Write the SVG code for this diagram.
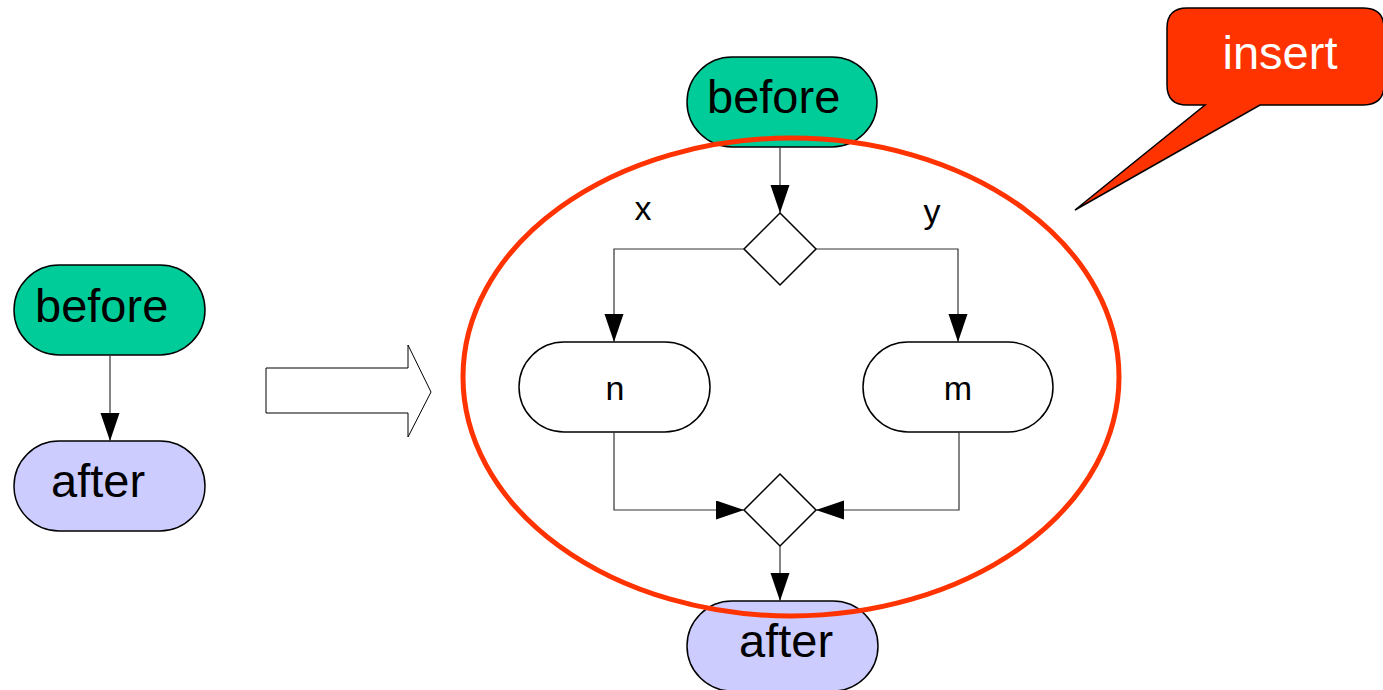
<svg xmlns="http://www.w3.org/2000/svg" width="1383" height="690" viewBox="0 0 1383 690">
  <defs>
    <marker id="head" markerUnits="userSpaceOnUse" markerWidth="30" markerHeight="20" refX="28" refY="9.5" orient="auto">
      <path d="M0,0 L28,9.5 L0,19 Z" fill="#000"/>
    </marker>
  </defs>
  <style>
    .term { stroke: #000; stroke-width: 1.5; }
    .before { fill: #00CC99; }
    .after { fill: #CCCCFF; }
    .act { fill: #fff; stroke: #000; stroke-width: 1.5; }
    .big { font-family: "Liberation Sans", Arial, sans-serif; font-size: 47px; fill: #000; }
    .small { font-family: "Liberation Sans", Arial, sans-serif; font-size: 34px; fill: #000; text-anchor: middle; }
    .edge { fill: none; stroke: #333; stroke-width: 1.2; marker-end: url(#head); }
  </style>

  <!-- original sequence: before -> after -->
  <g id="left-before">
    <rect class="term before" x="14" y="265" width="191" height="90" rx="45" ry="45"/>
    <text class="big" x="35" y="322">before</text>
  </g>
  <g id="left-after">
    <rect class="term after" x="14" y="441" width="191" height="90" rx="45" ry="45"/>
    <text class="big" x="51" y="497">after</text>
  </g>

  <!-- transformation arrow -->
  <g id="transform-arrow">
    <polygon points="266,368 408,368 408,345 431,392 408,437 408,413 266,413" fill="#fff" stroke="#000" stroke-width="1"/>
  </g>

  <!-- expanded sequence with a decision and merge -->
  <g id="right-before">
    <rect class="term before" x="687" y="57" width="190" height="90" rx="45" ry="45"/>
    <text class="big" x="707" y="113">before</text>
  </g>
  <g id="decision">
    <polygon class="act" points="780,213 816,249 780,285 744,249"/>
  </g>
  <g id="node-n">
    <rect class="act" x="519" y="342" width="191" height="90" rx="45" ry="45"/>
    <text class="small" x="615" y="400">n</text>
  </g>
  <g id="node-m">
    <rect class="act" x="863" y="342" width="190" height="90" rx="45" ry="45"/>
    <text class="small" x="958" y="400">m</text>
  </g>
  <g id="merge">
    <polygon class="act" points="780,474 816,510 780,546 744,510"/>
  </g>
  <g id="right-after">
    <rect class="term after" x="687" y="601" width="191" height="90" rx="45" ry="45"/>
    <text class="big" x="739" y="657">after</text>
  </g>

  <g id="connectors">
    <path class="edge" d="M110,355 V441"/>
    <path class="edge" d="M780,147 V213"/>
    <path class="edge" d="M744,249 H614 V342"/>
    <path class="edge" d="M816,249 H958 V342"/>
    <path class="edge" d="M614,432 V510 H744"/>
    <path class="edge" d="M959,432 V510 H816"/>
    <path class="edge" d="M780,546 V601"/>
  </g>

  <g id="labels">
    <text class="small" x="643" y="220">x</text>
    <text class="small" x="932" y="223">y</text>
  </g>

  <!-- highlight around the inserted part -->
  <g id="highlight">
    <ellipse cx="791" cy="377" rx="328" ry="239" fill="none" stroke="#FF3300" stroke-width="5"/>
  </g>

  <g id="callout">
    <path d="M1187,8 H1363 Q1384,8 1384,28 V85 Q1384,105 1363,105 H1260 L1075,210 L1205,105 H1187 Q1167,105 1167,85 V28 Q1167,8 1187,8 Z" fill="#FF3300" stroke="#000" stroke-width="1.5" stroke-linejoin="miter"/>
    <text x="1280" y="69" font-family="'Liberation Sans', Arial, sans-serif" font-size="47" fill="#fff" text-anchor="middle">insert</text>
  </g>
</svg>
